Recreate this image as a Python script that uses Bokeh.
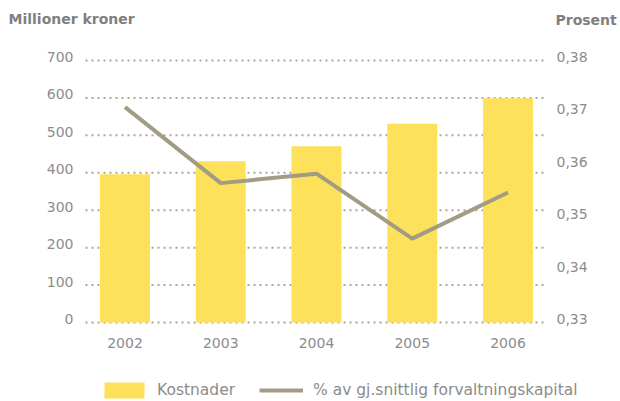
from bokeh.plotting import figure
from bokeh.models import Range1d, Legend, LegendItem, ColumnDataSource
from bokeh.core.properties import value
from bokeh.embed import file_html
from bokeh.resources import INLINE

# ---------------- data ----------------
years = ["2002", "2003", "2004", "2005", "2006"]
kostnader = [396, 431, 471, 531, 599]
prosent = [0.3711, 0.3566, 0.3584, 0.3460, 0.3548]
left_ticks = [0, 100, 200, 300, 400, 500, 600, 700]
right_ticks = [0.33, 0.34, 0.35, 0.36, 0.37, 0.38]
left_labels = [str(t) for t in left_ticks]
right_labels = [f"{t:.2f}".replace(".", ",") for t in right_ticks]
axis_titles = ["Millioner kroner", "Prosent"]
series_names = ["Kostnader", "% av gj.snittlig forvaltningskapital"]

# ---------------- style / geometry ----------------
W, H = 620, 401
FONT = "DejaVu Sans"
GRAY = "#8c8c8c"
TITLE_GRAY = "#7f7f7f"
BAR = "#FEE15B"
LINE = "#A39C85"
GRID = "#ADA68F"

CAT0_PX, CAT_STEP = 124.5, 95.75            # pixel centre of first category, spacing
ZERO_PX, PX_PER_UNIT = 322.0, 262.0 / 700    # left scale
PCT0_PX, PX_PER_PCT = 322.0, 262.0 / 0.05    # right scale
PLOT_L, PLOT_R = 85, 547

def xdata(px):
    return (px - CAT0_PX) / CAT_STEP

x_range = Range1d(xdata(0), xdata(W))
y_range = Range1d((ZERO_PX - H) / PX_PER_UNIT, ZERO_PX / PX_PER_UNIT)

p = figure(width=W, height=H, output_backend="svg", toolbar_location=None,
           x_axis_type=None, y_axis_type=None, x_range=x_range, y_range=y_range,
           min_border=0, min_border_left=0, min_border_right=0,
           min_border_top=0, min_border_bottom=0)
p.outline_line_color = None
p.background_fill_color = "white"
p.border_fill_color = "white"
p.extra_y_ranges = {
    "pct": Range1d(0.33 - (H - PCT0_PX) / PX_PER_PCT, 0.33 + PCT0_PX / PX_PER_PCT),
    "px": Range1d(H, 0),
}
p.extra_x_ranges = {"px": Range1d(0, W)}

xpos = list(range(len(years)))
src = ColumnDataSource(dict(x=xpos, k=kostnader, p=prosent))

# dotted horizontal grid lines at the left-axis ticks
p.segment(x0=xdata(PLOT_L), x1=xdata(PLOT_R), y0=left_ticks, y1=left_ticks,
          line_color=GRID, line_width=2, line_dash="2 4")

bars = p.vbar(x="x", top="k", width=0.522, source=src, fill_color=BAR, line_color=None)
line = p.line(x="x", y="p", source=src, y_range_name="pct", line_color=LINE, line_width=4)

tick_style = dict(text_font=value(FONT), text_font_size="14px", text_color=GRAY,
                  text_baseline="middle")

# left axis tick labels
p.text(x=[73] * len(left_ticks), y=left_ticks, text=left_labels, x_range_name="px",
       text_align="right", y_offset=-3.5, **tick_style)
# right axis tick labels
p.text(x=[556] * len(right_ticks), y=right_ticks, text=right_labels, x_range_name="px",
       y_range_name="pct", text_align="left", y_offset=-3.5, **tick_style)
# category labels
p.text(x=xpos, y=[342] * len(years), text=years, y_range_name="px",
       text_align="center", **tick_style)
# axis titles
p.text(x=[8, 555], y=[18.5, 19.5], text=axis_titles, x_range_name="px", y_range_name="px",
       text_font=value(FONT), text_font_size="14px", text_font_style="bold",
       text_color=TITLE_GRAY, text_baseline="middle", text_align="left")

leg_common = dict(orientation="horizontal", padding=0, margin=0, spacing=0,
                  border_line_color=None, background_fill_alpha=0,
                  glyph_height=20, label_height=20,
                  label_text_font=FONT, label_text_font_size="15.5px", label_text_color=GRAY)
l1 = Legend(items=[LegendItem(label=series_names[0], renderers=[bars])],
            location=(99, 1), glyph_width=50, label_standoff=8, **leg_common)
l2 = Legend(items=[LegendItem(label=series_names[1], renderers=[line])],
            location=(259, 1), glyph_width=44, label_standoff=10, **leg_common)
p.add_layout(l1)
p.add_layout(l2)

open("out.html", "w").write(file_html(p, INLINE))
